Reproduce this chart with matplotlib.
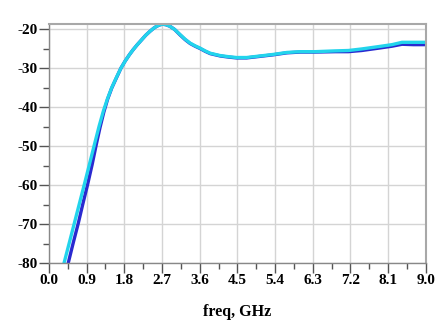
import matplotlib
matplotlib.use("Agg")
import matplotlib.pyplot as plt
import numpy as np

freq_cyan = [0.36, 0.50, 0.62, 0.74, 0.86, 0.98, 1.10, 1.20, 1.30, 1.40, 1.50, 1.62,
             1.72, 1.82, 1.92, 2.01, 2.11, 2.21, 2.31, 2.41, 2.50, 2.57, 2.65, 2.72,
             2.80, 2.89, 3.00, 3.13, 3.25, 3.37, 3.49, 3.61, 3.73, 3.85, 3.97, 4.09,
             4.30, 4.48, 4.72, 5.04, 5.36, 5.68, 6.00, 6.36, 6.83, 7.15, 7.47, 7.87,
             8.19, 8.43, 8.70, 9.0]
s_cyan = [-80.0, -74.2, -69.2, -64.2, -59.2, -54.1, -49.0, -44.8, -41.0, -37.8, -35.0, -32.2,
          -30.0, -28.2, -26.6, -25.3, -24.0, -22.8, -21.6, -20.6, -19.8, -19.3, -18.9, -18.75,
          -18.9, -19.3, -20.1, -21.4, -22.6, -23.6, -24.3, -24.9, -25.6, -26.2, -26.5, -26.8,
          -27.1, -27.3, -27.3, -26.9, -26.5, -26.0, -25.8, -25.8, -25.6, -25.5, -25.1, -24.5,
          -24.0, -23.4, -23.4, -23.4]

freq_blue = [0.46, 0.58, 0.70, 0.81, 0.92, 1.03, 1.13, 1.22, 1.31, 1.40, 1.50, 1.62,
             1.72, 1.82, 1.92, 2.01, 2.11, 2.21, 2.31, 2.41, 2.50, 2.57, 2.65, 2.72,
             2.80, 2.89, 3.00, 3.13, 3.25, 3.37, 3.49, 3.61, 3.73, 3.85, 3.97, 4.09,
             4.30, 4.48, 4.72, 5.04, 5.36, 5.68, 6.00, 6.36, 6.83, 7.15, 7.47, 7.87,
             8.19, 8.43, 8.70, 9.0]
s_blue = [-80.0, -74.8, -69.8, -64.8, -60.0, -54.8, -49.6, -45.2, -41.3, -38.0, -35.1, -32.3,
          -30.0, -28.2, -26.6, -25.3, -24.0, -22.8, -21.6, -20.6, -19.8, -19.3, -18.9, -18.75,
          -18.9, -19.3, -20.1, -21.5, -22.7, -23.7, -24.4, -25.0, -25.7, -26.3, -26.6, -26.9,
          -27.2, -27.4, -27.4, -27.0, -26.6, -26.1, -25.9, -25.9, -25.8, -25.8, -25.5, -24.9,
          -24.4, -23.9, -24.0, -24.0]

x_ticks = [0.0, 0.9, 1.8, 2.7, 3.6, 4.5, 5.4, 6.3, 7.2, 8.1, 9.0]
y_ticks = [-80, -70, -60, -50, -40, -30, -20]

plt.rcParams['font.family'] = ['Liberation Serif', 'DejaVu Serif']
plt.rcParams['font.weight'] = 'bold'
plt.rcParams['axes.unicode_minus'] = False

fig = plt.figure(figsize=(4.45, 3.24), dpi=100)
ax = fig.add_axes([0.110, 0.188, 0.847, 0.738])

ax.plot(freq_blue, s_blue, color='#2a2ad0', lw=2.4)
ax.plot(freq_cyan, s_cyan, color='#22d4ec', lw=2.4)

ax.set_xlim(0, 9.0)
ax.set_ylim(-80, -18.7)
ax.set_xticks(x_ticks)
ax.set_xticklabels([f"{t:.1f}" for t in x_ticks])
ax.set_yticks(y_ticks)
ax.set_xticks(np.arange(0.45, 9.0, 0.9), minor=True)
ax.set_yticks(np.arange(-75, -19, 10), minor=True)

ax.grid(True, which='major', color='#d4d4d4', lw=1.0)
ax.tick_params(which='major', direction='out', length=7, width=1, pad=1, labelsize=11, color='#555555')
ax.tick_params(which='minor', direction='out', length=4, width=1, color='#555555')
for s in ['top', 'right']:
    ax.spines[s].set_color('#a8a8a8')
    ax.spines[s].set_linewidth(1.5)
for s in ['left', 'bottom']:
    ax.spines[s].set_color('#888888')
    ax.spines[s].set_linewidth(1.0)

ax.set_xlabel('freq, GHz', fontsize=11.5, fontweight='bold', labelpad=12)

fig.savefig('out.png', dpi=100)
